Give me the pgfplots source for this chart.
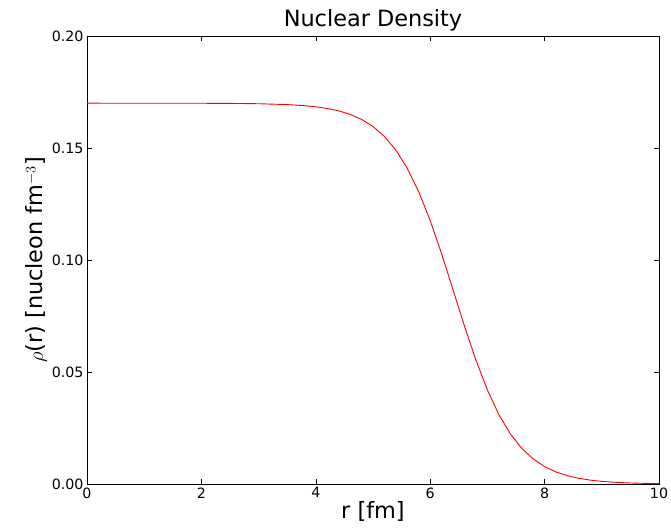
\documentclass[border=0pt]{standalone}
\usepackage{pgfplots}
\pgfplotsset{compat=1.18}
\usepackage{fontspec}
\setmainfont{DejaVu Sans}
\setsansfont{DejaVu Sans}
\begin{document}
\begin{tikzpicture}[x=1pt,y=1pt]
\begin{axis}[
  at={(0,0)}, anchor=south west,
  width=572pt, height=448pt, scale only axis,
  xmin=0, xmax=10, ymin=0, ymax=0.2,
  xtick={0,2,4,6,8,10}, ytick={0,0.05,0.1,0.15,0.2},
  yticklabel style={/pgf/number format/.cd, fixed, fixed zerofill, precision=2},
  /pgf/number format/assume math mode=true,
  tick align=inside, major tick length=5pt,
  tick style={black, line width=0.6pt},
  axis line style={black, line width=0.8pt},
  ticklabel style={font=\fontsize{14.2}{16}\selectfont},
  title={Nuclear Density},
  title style={font=\fontsize{22.4}{26}\selectfont, yshift=-5pt},
  xlabel={r [fm]},
  ylabel={$\rho$(r) [nucleon fm$^{-3}$]},
  label style={font=\fontsize{22.4}{26}\selectfont},
  xlabel style={yshift=4pt},
  ylabel style={yshift=-2pt},
]
\addplot[red, line width=0.9pt] coordinates {
(0,0.17) (1,0.169995) (2,0.169965) (2.5,0.16991) (3,0.16976) (3.5,0.16938)
(3.8,0.16890) (4.0,0.16840) (4.2,0.16765) (4.4,0.16658) (4.6,0.16502)
(4.8,0.16278) (5.0,0.15960) (5.2,0.15515) (5.4,0.14904) (5.6,0.14089)
(5.8,0.13042) (6.0,0.11757) (6.2,0.10272) (6.4,0.08663) (6.6,0.07043)
(6.8,0.05526) (7.0,0.04197) (7.2,0.03101) (7.4,0.02242) (7.6,0.01593)
(7.8,0.01118) (8.0,0.00777) (8.2,0.00537) (8.4,0.00369) (8.6,0.00253)
(8.8,0.00173) (9.0,0.00118) (9.2,0.000806) (9.5,0.000454) (9.8,0.000255)
(10,0.000174)
};
\end{axis}
\pgfresetboundingbox
\path (-87,-46) rectangle (584,484);
\end{tikzpicture}
\end{document}
